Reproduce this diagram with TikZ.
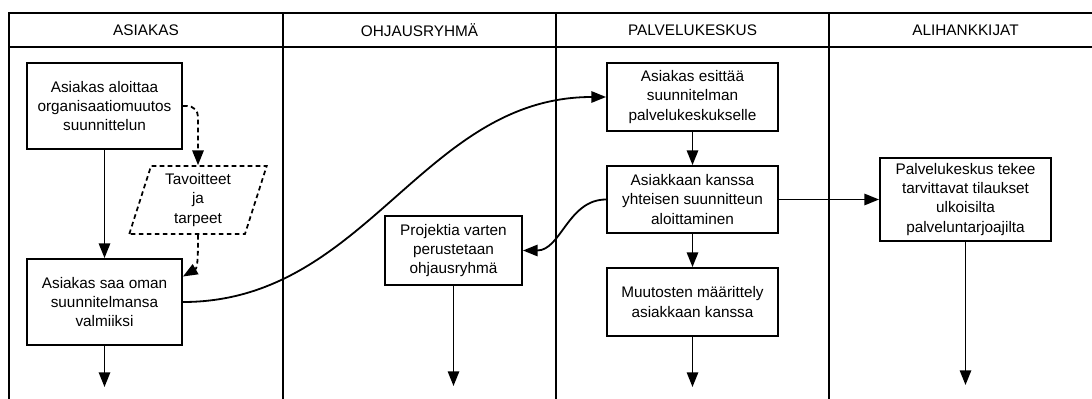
\documentclass[tikz,border=0pt]{standalone}
\usepackage{fontspec}
\setmainfont{Liberation Sans}
\usetikzlibrary{arrows.meta, shapes.geometric}

\begin{document}
\begin{tikzpicture}[x = .75pt, y = .75pt, font=\fontsize{11.5}{14.3}\selectfont,
    lane/.style={line width=1.4pt},
    box/.style={draw,line width=1.4pt,align=center,inner sep=2pt,minimum width=128.25pt,minimum height=51pt},
    flow/.style={line width=1.35pt,-{Triangle[length=11pt,width=8.5pt]}},
    dashflow/.style={flow,dash pattern=on 3.5pt off 2.5pt}]
    \useasboundingbox (0,0) rectangle (1092,-399);
    \clip (0,0) rectangle (1092,-399);
    % swimlanes
    \draw[lane] (9,-420) |- (1102,-13) -- (1102,-420);
    \draw[lane] (9,-47) -- (1102,-47);
    \foreach \x in {283,556,829} \draw[lane] (\x,-13) -- (\x,-420);
    \node (hAsiakas) at (146,-30) {ASIAKAS};
    \node (hOhjaus) at (419.5,-30) {OHJAUSRYHMÄ};
    \node (hPalvelu) at (692.5,-30) {PALVELUKESKUS};
    \node (hAli) at (965.5,-30) {ALIHANKKIJAT};
    % steps
    \node[box, minimum width=116.25pt, minimum height=64.5pt] (ask1) at (104.5,-106) {Asiakas aloittaa\\organisaatiomuutos\\suunnittelun};
    \node[box, minimum width=116.25pt, minimum height=64.5pt] (ask2) at (104.5,-302) {Asiakas saa oman\\suunnitelmansa\\valmiiksi};
    \node[trapezium, draw, line width=1.3pt, dash pattern=on 3.5pt off 2.5pt, align=center,
        trapezium left angle=74, trapezium right angle=106, trapezium stretches=true,
        minimum width=103.5pt, minimum height=51pt, inner sep=1pt] (tav) at (198,-200) {Tavoitteet\\ja\\tarpeet};
    \node[box, minimum width=102.75pt, minimum height=51.75pt] (proj) at (453.5,-250.5) {Projektia varten\\perustetaan\\ohjausryhmä};
    \node[box] (pal1) at (692.5,-97) {Asiakas esittää\\suunnitelman\\palvelukeskukselle};
    \node[box, minimum height=50.25pt] (pal2) at (692.5,-199.5) {Asiakkaan kanssa\\yhteisen suunnitteun\\aloittaminen};
    \node[box] (pal3) at (692.5,-302) {Muutosten määrittely\\asiakkaan kanssa};
    \node[box, minimum height=62.25pt] (ali1) at (965.5,-199.5) {Palvelukeskus tekee\\tarvittavat tilaukset\\ulkoisilta\\palveluntarjoajilta};
    \coordinate (endA) at (104.5,-387);
    \coordinate (endO) at (453.5,-386);
    \coordinate (endP) at (692.5,-387);
    \coordinate (endL) at (965.5,-385);
    % arrows
    \draw[flow] (ask1) -- (ask2);
    \draw[dashflow, rounded corners=8pt] (ask1.east) -| (tav.north);
    \draw[dashflow] (tav.south) to[out=-90, in=30] (ask2.18);
    \draw[flow] (ask2.east) to[out=0, in=180] (pal1.west);
    \draw[flow] (pal1) -- (pal2);
    \draw[flow] (pal2) -- (pal3);
    \draw[flow] (pal2.west) to[out=180, in=0] (proj.east);
    \draw[flow] (pal2) -- (ali1);
    \draw[flow] (ask2) -- (endA);
    \draw[flow] (proj) -- (endO);
    \draw[flow] (pal3) -- (endP);
    \draw[flow] (ali1) -- (endL);
\end{tikzpicture}
\end{document}
